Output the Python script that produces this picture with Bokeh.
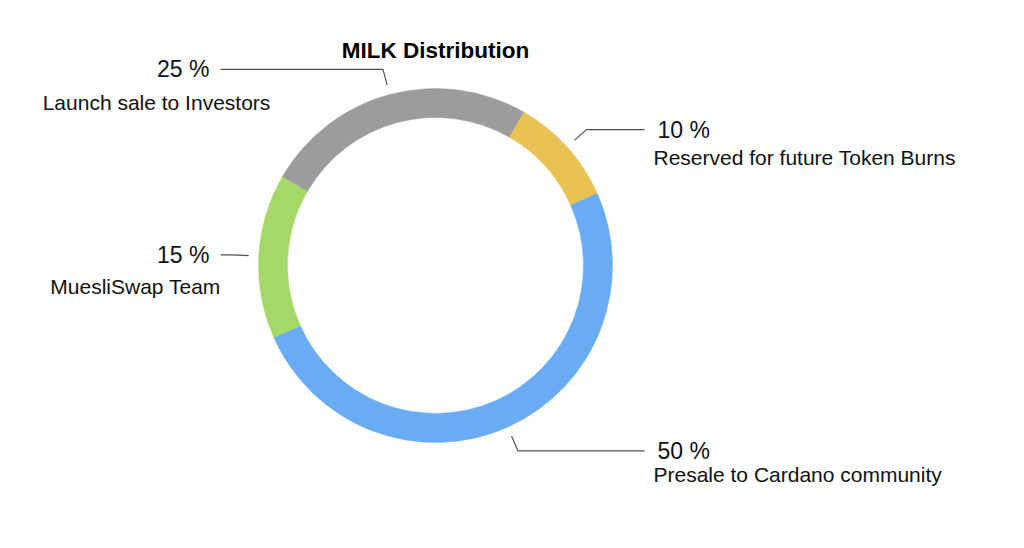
import math
from bokeh.plotting import figure
from bokeh.models import Range1d
from bokeh.core.properties import value
from bokeh.embed import file_html
from bokeh.resources import INLINE

# ---- data ----
names = ["Launch sale to Investors", "Reserved for future Token Burns",
         "Presale to Cardano community", "MuesliSwap Team"]
shares = [25, 10, 50, 15]
colors = ["#9c9c9c", "#e8c252", "#6aacf3", "#a6d769"]
title_text = "MILK Distribution"

# ---- layout (page pixel coordinates) ----
W, H = 1008, 532
def Y(py):
    return 548 - py

cx, cy = 435, 265
r_out, r_in = 177, 148
start_deg = 300  # clockwise from top, where the first slice begins
lead_r0, lead_r1 = 187, 203
left_end, right_end = 220, 644
pct_x_left, pct_x_right = 209, 657
name_x_right = 653
name_pos_left = {0: (156, 33), 3: (135, 32)}   # centre x, y offset
name_off_right = {1: 28, 2: 24}

p = figure(width=W, height=H, x_range=Range1d(0, W), y_range=Range1d(548 - H, 548),
           output_backend="svg", toolbar_location=None, min_border=0)
p.axis.visible = False
p.grid.visible = False
p.outline_line_color = None
p.background_fill_color = "white"

total = sum(shares)
theta = start_deg
starts, ends, mids = [], [], []
for s in shares:
    span = 360.0 * s / total
    t0, t1 = theta, theta + span
    starts.append(math.radians(90 - t1))
    ends.append(math.radians(90 - t0))
    mids.append((t0 + t1) / 2.0)
    theta = t1

p.annular_wedge(x=[cx] * len(shares), y=[Y(cy)] * len(shares),
                inner_radius=r_in, outer_radius=r_out,
                start_angle=starts, end_angle=ends, direction="anticlock",
                fill_color=colors, line_color=colors, line_width=0.5)

font = value("Liberation Sans")
for i, (nm, s, m) in enumerate(zip(names, shares, mids)):
    a = math.radians(m)
    x0, y0 = cx + lead_r0 * math.sin(a), cy - lead_r0 * math.cos(a)
    x1, y1 = cx + lead_r1 * math.sin(a), cy - lead_r1 * math.cos(a)
    right = math.sin(a) > 0
    x2 = right_end if right else left_end
    p.line([x0, x1, x2], [Y(y0), Y(y1), Y(y1)], line_color="#505050", line_width=1.2)
    if right:
        p.text(x=[pct_x_right], y=[Y(y1)], text=[f"{s} %"], text_font=font,
               text_font_size="23px", text_align="left", text_baseline="middle",
               text_color="#111111")
        p.text(x=[name_x_right], y=[Y(y1 + name_off_right[i])], text=[nm], text_font=font,
               text_font_size="21px", text_align="left", text_baseline="middle",
               text_color="#111111")
    else:
        nx, off = name_pos_left[i]
        p.text(x=[pct_x_left], y=[Y(y1)], text=[f"{s} %"], text_font=font,
               text_font_size="23px", text_align="right", text_baseline="middle",
               text_color="#111111")
        p.text(x=[nx], y=[Y(y1 + off)], text=[nm], text_font=font,
               text_font_size="21px", text_align="center", text_baseline="middle",
               text_color="#111111")

p.text(x=[cx], y=[Y(50)], text=[title_text], text_font=font, text_font_size="22.5px",
       text_font_style="bold", text_align="center", text_baseline="middle",
       text_color="#000000")

open("out.html", "w").write(file_html(p, INLINE))
